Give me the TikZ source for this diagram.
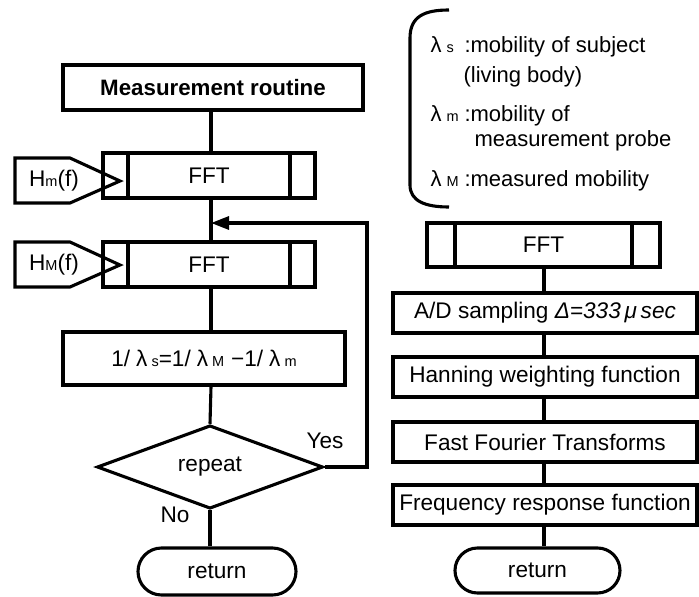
\documentclass[tikz,border=0pt]{standalone}
\usepackage{fontspec}
\setmainfont{Liberation Sans}
\usetikzlibrary{shapes.geometric,shapes.misc,arrows.meta}

% small letters used as subscripts sitting on the baseline
\newcommand{\lowidx}[1]{{\fontsize{14.5}{14.5}\selectfont #1}}

\begin{document}
\begin{tikzpicture}[x=1pt,y=-1pt,line width=3.1pt,
  every node/.style={font=\fontsize{22.6}{26}\selectfont},
  box/.style={draw,rectangle,inner sep=0pt},
  subr/.style={box,path picture={
      \draw ([xshift=#1]path picture bounding box.north west) -- ([xshift=#1]path picture bounding box.south west);
      \draw ([xshift=-#1]path picture bounding box.north east) -- ([xshift=-#1]path picture bounding box.south east);}},
  term/.style={draw,rounded rectangle,inner sep=0pt},
  decide/.style={draw,diamond,inner sep=0pt},
  lg/.style={inner sep=0pt,anchor=base west,font=\fontsize{22}{26}\selectfont},
  tag/.style={inner sep=0pt},
  loopar/.style={-{Triangle[length=18pt,width=13pt]}}
]
\useasboundingbox (0,0) rectangle (699,597);

% ---------- main measurement routine ----------
\coordinate (sp) at (211,0);
\node[box,minimum width=300pt,minimum height=45pt,font=\fontsize{22.3}{26}\selectfont\bfseries] (mr) at (213,87.5) {Measurement routine};
\node[subr=25pt,minimum width=212pt,minimum height=45pt] (fft1) at (209,175.5) {FFT};
\node[subr=25pt,minimum width=212pt,minimum height=45pt] (fft2) at (209,264.5) {FFT};
\node[box,minimum width=282pt,minimum height=53pt] (fm) at (204,358.5)
  {1/\hspace{6pt}λ\hspace{4pt}\lowidx{s}=1/\hspace{6pt}λ\hspace{4pt}\lowidx{M}\hspace{7pt}−1/\hspace{6pt}λ\hspace{4pt}\lowidx{m}};
\node[decide,minimum width=226pt,minimum height=73pt] (dec) at (210,467) {repeat};
\node[term,minimum width=158pt,minimum height=47pt] (ret1) at (217,571.5) {return};

% input signals
\draw[line join=miter] (15,158) -- (70,158) -- (120,181) -- (70,203) -- (15,203) -- cycle;
\node[tag] (hm) at (54,181) {H\lowidx{m}(f)};
\draw[line join=miter] (15,242) -- (70,242) -- (120,265) -- (70,287) -- (15,287) -- cycle;
\node[tag] (hM) at (54,265) {H\lowidx{M}(f)};

\draw (mr.south -| sp) -- (fft1.north -| sp);
\draw (fft1.south -| sp) -- (fft2.north -| sp);
\draw (fft2.south -| sp) -- (fm.north -| sp);
\draw (fm.south -| sp) -- (dec.north);
\draw (dec.south) -- (ret1.north -| dec.south);

\coordinate (loopc) at (367,223);
\coordinate (join) at (211,223);
\draw[loopar,line join=miter] (dec.east) -| (loopc) -- (join);
\node[tag] (yes) at (325,441) {Yes};
\node[tag] (no) at (175,515) {No};

% ---------- FFT subroutine ----------
\coordinate (sq) at (544,0);
\node[subr=28pt,minimum width=233pt,minimum height=44pt] (ffr) at (543.5,245) {FFT};
\node[box,minimum width=304pt,minimum height=40pt] (ad) at (545,313) {A/D sampling \textit{Δ=333\,μ\,sec}};
\node[box,minimum width=304pt,minimum height=40pt] (hw) at (545,377) {Hanning weighting function};
\node[box,minimum width=304pt,minimum height=40pt] (ff) at (545,442) {Fast Fourier Transforms};
\node[box,minimum width=304pt,minimum height=40pt] (fr) at (545,505) {Frequency response function};
\node[term,minimum width=165pt,minimum height=45pt] (ret2) at (537.5,570.5) {return};

\draw (ffr.south -| sq) -- (ad.north -| sq);
\draw (ad.south -| sq) -- (hw.north -| sq);
\draw (hw.south -| sq) -- (ff.north -| sq);
\draw (ff.south -| sq) -- (fr.north -| sq);
\draw (fr.south -| sq) -- (ret2.north -| sq);

% ---------- symbol legend ----------
\draw (449,10) .. controls (425,10) and (410,16) .. (410,38) -- (410,185)
      .. controls (410,201) and (425,207) .. (449,207);
\node[lg] (ls) at (429,52) {λ\hspace{5pt}\lowidx{s}};
\node[lg] (lsd) at (463,52) {:mobility of subject};
\node[lg] (lsd2) at (462,82) {(living body)};
\node[lg] (lm) at (429,121) {λ\hspace{5pt}\lowidx{m}};
\node[lg] (lmd) at (463,121) {:mobility of};
\node[lg] (lmd2) at (473,146) {measurement probe};
\node[lg] (lM) at (429,186) {λ\hspace{5pt}\lowidx{M}};
\node[lg] (lMd) at (463,186) {:measured mobility};
\end{tikzpicture}
\end{document}
